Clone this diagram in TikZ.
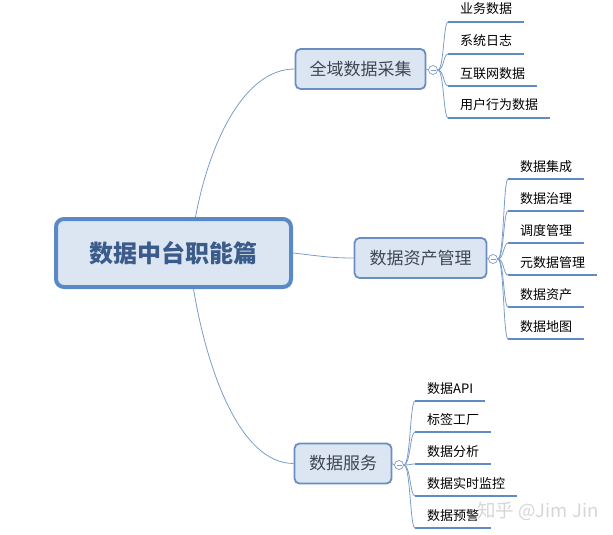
\documentclass[tikz,border=0pt]{standalone}
\usepackage{fontspec}
\usetikzlibrary{calc}
\newfontfamily\cjk{Noto Sans CJK SC}
\definecolor{mainborder}{HTML}{5A8AC6}
\definecolor{mainfill}{HTML}{DCE6F2}
\definecolor{maintext}{HTML}{3B5B8A}
\definecolor{subborder}{HTML}{6A8EC2}
\definecolor{subtext}{HTML}{3F4650}
\definecolor{linkcol}{HTML}{7C9CC8}
\definecolor{ulcol}{HTML}{5F8BC6}
\tikzset{
  centralbox/.style={draw=mainborder, line width=4pt, fill=mainfill, rounded corners=8pt,
    minimum width=235pt, minimum height=68pt, font=\cjk\bfseries\fontsize{24}{28}\selectfont,
    text=maintext, inner sep=0pt},
  branchbox/.style={draw=subborder, line width=1.8pt, fill=mainfill, rounded corners=5pt,
    minimum height=40pt, font=\cjk\fontsize{17}{20}\selectfont, text=subtext, inner sep=0pt},
  toggle/.style={circle, draw=linkcol, line width=0.7pt, fill=white, minimum size=9pt, inner sep=0pt,
    path picture={\draw[linkcol, line width=0.6pt] ([xshift=2pt]path picture bounding box.west) -- ([xshift=-2pt]path picture bounding box.east);}},
  leaftext/.style={font=\cjk\fontsize{13}{15}\selectfont, text=black, inner sep=0pt, anchor=base west},
  link/.style={draw=linkcol, line width=0.8pt},
  uline/.style={draw=ulcol, line width=2.6pt},
  watermark/.style={font=\cjk\fontsize{18.5}{22}\selectfont, text=gray!40, opacity=0.8, inner sep=0pt}
}
\begin{document}
\begin{tikzpicture}[x=1pt,y=-1pt]
\useasboundingbox (0,0) rectangle (613,535);

% central
\node[centralbox] (center) at (173.5,253) {数据中台职能篇};

% branches
\node[branchbox, minimum width=130pt] (b1) at (360.5,69) {全域数据采集};
\node[branchbox, minimum width=132pt] (b2) at (420.5,258) {数据资产管理};
\node[branchbox, minimum width=97pt] (b3) at (343,463.5) {数据服务};

% main links
\draw[link] ([xshift=22pt]center.north) .. controls (210,140) and (245,69) .. (b1.west);
\draw[link] (center.east) .. controls (320,256) and (330,258) .. (b2.west);
\draw[link] ([xshift=20pt]center.south) .. controls (207,370) and (240,463.5) .. (b3.west);

% toggles
\node[toggle] (t1) at (433,70) {};
\node[toggle] (t2) at (493,259) {};
\node[toggle] (t3) at (399,465) {};
\draw[link] (b1.east) -- (t1.west);
\draw[link] (b2.east) -- (t2.west);
\draw[link] (b3.east) -- (t3.west);

% leaf macro: #1 name, #2 toggle, #3 x of underline start, #4 y of underline, #5 text
\newcommand{\leafitem}[5]{%
  \coordinate (#1u) at (#3,#4);
  \node[leaftext] (#1) at (#3+12,#4-8) {#5};
  \draw[link] (#2.east) .. controls ($(#2.east)!0.6!(#2.east -| #1u)$) and ($(#1u)!0.45!(#2.east |- #1u)$) .. (#1u);
  \draw[uline] (#1u) -- ([xshift=12pt]#1.east |- #1u);
}

\leafitem{a1}{t1}{448}{22}{业务数据}
\leafitem{a2}{t1}{448}{54}{系统日志}
\leafitem{a3}{t1}{448}{86}{互联网数据}
\leafitem{a4}{t1}{448}{118}{用户行为数据}

\leafitem{c1}{t2}{508}{179}{数据集成}
\leafitem{c2}{t2}{508}{211}{数据治理}
\leafitem{c3}{t2}{508}{243}{调度管理}
\leafitem{c4}{t2}{508}{275}{元数据管理}
\leafitem{c5}{t2}{508}{307}{数据资产}
\leafitem{c6}{t2}{508}{339}{数据地图}

\leafitem{d1}{t3}{415}{401}{数据API}
\leafitem{d2}{t3}{415}{432}{标签工厂}
\leafitem{d3}{t3}{415}{464}{数据分析}
\leafitem{d4}{t3}{415}{496}{数据实时监控}
\leafitem{d5}{t3}{415}{528}{数据预警}

% watermark
\node[watermark, anchor=west] (wm) at (477,511) {知乎 @Jim Jin};
\end{tikzpicture}
\end{document}
